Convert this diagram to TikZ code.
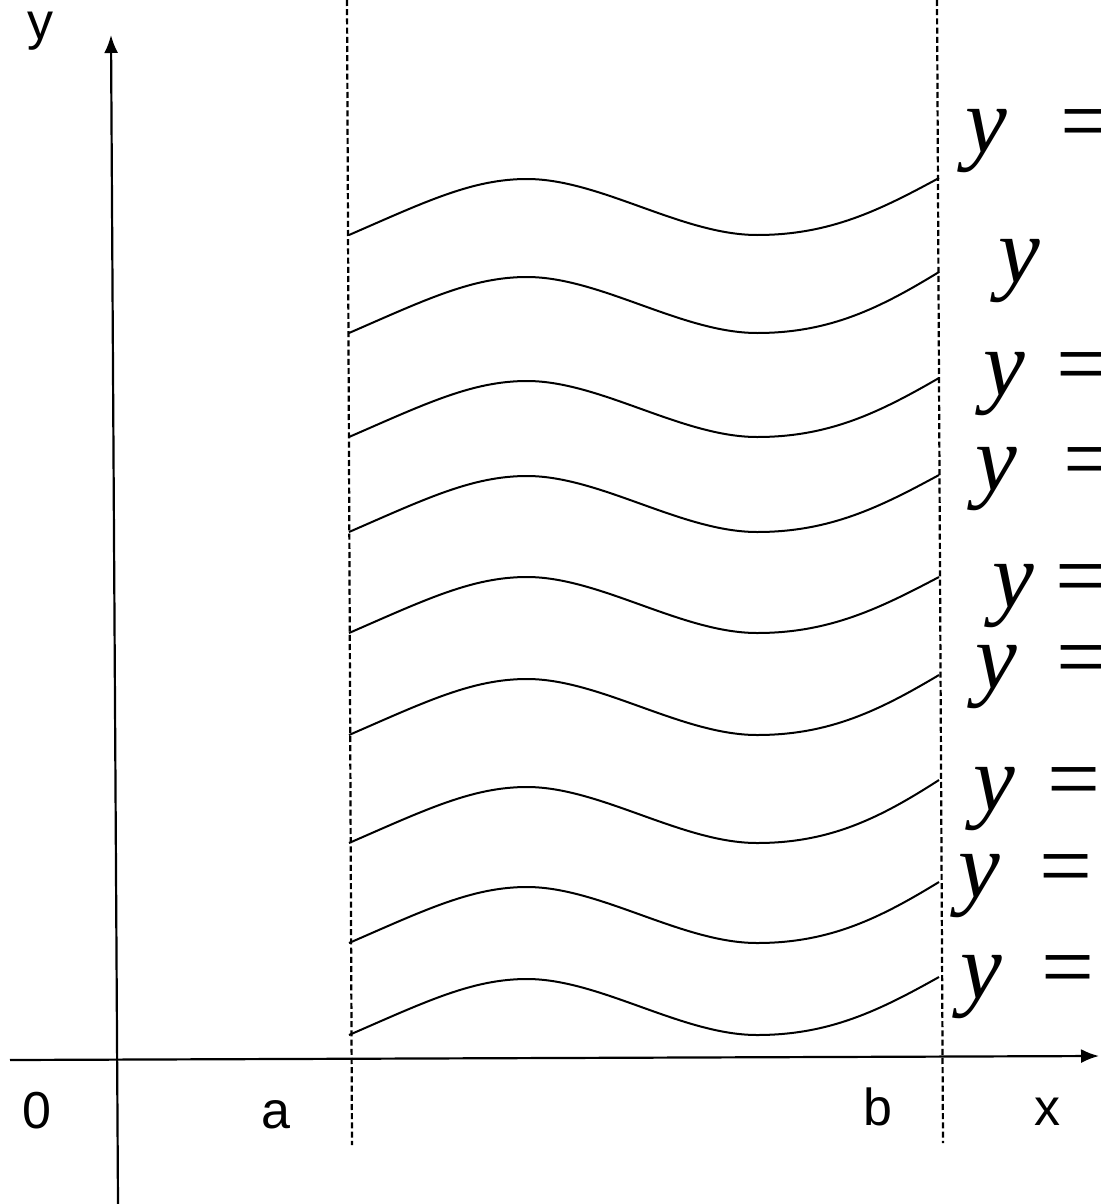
\documentclass[tikz,border=0pt]{standalone}
\usepackage{fontspec}
\setmainfont{Liberation Sans}
\newfontfamily\tnr{Liberation Serif}
\usetikzlibrary{arrows.meta}
\begin{document}
\begin{tikzpicture}[x=0.5pt,y=-0.5pt,
  axis/.style={line width=1.1pt, -{Latex[length=9pt,width=7pt]}},
  guide/.style={line width=1.1pt, dash pattern=on 3pt off 1.6pt},
  wave/.style={line width=1pt},
  lab/.style={font=\fontsize{26}{26}\selectfont, inner sep=0pt, anchor=base},
  eq/.style={font=\tnr\itshape\fontsize{47}{47}\selectfont, inner sep=0pt, anchor=base west}]
\useasboundingbox (0,0) rectangle (1100,1204);
\clip (0,0) rectangle (1100,1204);
% axes
\coordinate (ybot) at (118,1204);
\coordinate (ytop) at (111,35);
\coordinate (xl) at (10,1060);
\coordinate (xr) at (1099,1056);
\draw[axis] (ybot) -- (ytop);
\draw[axis] (xl) -- (xr);
% dashed guides
\coordinate (at) at (347,0);
\coordinate (ab) at (352,1145);
\coordinate (bt) at (937,0);
\coordinate (bb) at (943,1143);
\draw[guide] (at) -- (ab);
\draw[guide] (bt) -- (bb);
% axis labels
\node[lab] (ylab) at (40,40) {y};
\node[lab] (olab) at (37,1128) {0};
\node[lab] (alab) at (276,1128) {a};
\node[lab] (blab) at (878,1125) {b};
\node[lab] (xlab) at (1047,1125) {x};
% waves
\foreach \s/\e in {235/178, 333/272, 437/378, 532/475, 633/577, 735/675, 843/780, 943/882, 1035/977}
  \draw[wave] (349,\s) .. controls (425,{\s-33}) and (472,{\s-56}) .. (527,{\s-56})
     .. controls (600,{\s-56}) and (682,\s) .. (757,\s)
     .. controls (830,\s) and (880,{\s-25}) .. (939,\e);
% right labels
\node[eq] (e1) at (965,153) {y\hspace{23.5pt}=};
\node[eq] (e2) at (998,282) {y};
\node[eq] (e3) at (983,395) {y\hspace{12.5pt}=};
\node[eq] (e4) at (975,490) {y\hspace{20pt}=};
\node[eq] (e5) at (992,607) {y\hspace{7.5pt}=};
\node[eq] (e6) at (975,688) {y\hspace{16.5pt}=};
\node[eq] (e7) at (973,810) {y\hspace{13pt}=};
\node[eq] (e8) at (958,897) {y\hspace{16.5pt}=};
\node[eq] (e9) at (960,998) {y\hspace{16.5pt}=};
\end{tikzpicture}
\end{document}
